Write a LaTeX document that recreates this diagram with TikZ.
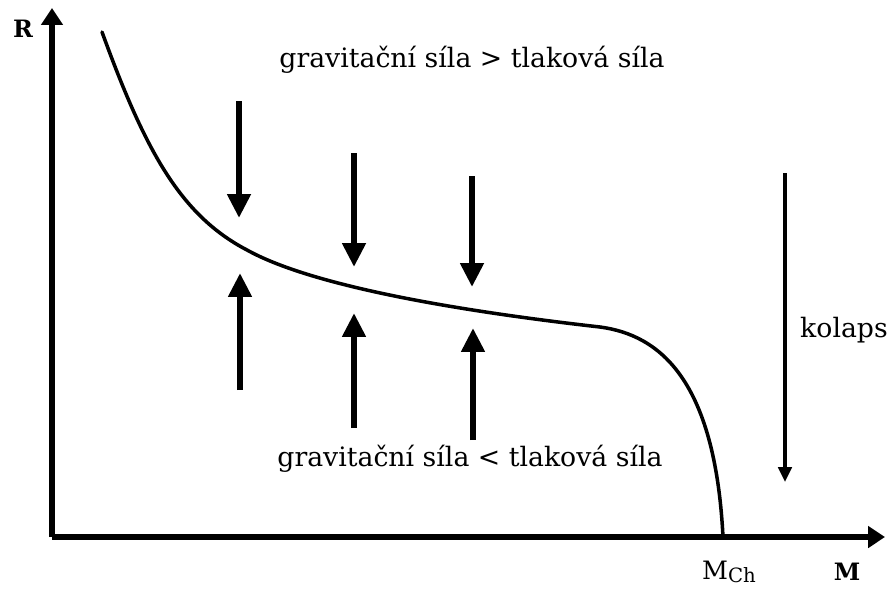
\documentclass[tikz,border=0pt]{standalone}
\usepackage{fontspec}
\setmainfont{DejaVu Serif}
\usetikzlibrary{arrows.meta}

\begin{document}
\begin{tikzpicture}[x=0.025cm,y=-0.025cm,font=\fontsize{19}{22}\selectfont,
    axis/.style={line width=4.2pt,-{Triangle[length=12pt,width=15pt]}},
    force/.style={line width=4.6pt,-{Triangle[length=17pt,width=16pt]}},
    thinarrow/.style={line width=2.3pt,-{Triangle[length=10.5pt,width=9.5pt]}}]
  \useasboundingbox (0,0) rectangle (893,588);
  % axes R over M
  \coordinate (O) at (52,537);
  \coordinate (Rend) at (52,8);
  \coordinate (Mend) at (885,537);
  \draw[axis] (O) -- (Rend);
  \draw[axis] (O) -- (Mend);
  \node[font=\fontsize{17}{20}\selectfont\bfseries] (R) at (23,29) {R};
  \node[font=\fontsize{17}{20}\selectfont\bfseries] (M) at (847,572) {M};
  \node[font=\fontsize{18}{20}\selectfont] (MCh) at (729,572) {M\raisebox{-0.12em}{\fontsize{14}{15}\selectfont Ch}};
  % mass-radius curve
  \draw[line width=2.5pt,line cap=round] (102,32)
    .. controls (145,150) and (180,215) .. (247,250)
    .. controls (310,285) and (450,310) .. (600,327)
    .. controls (660,335) and (715,380) .. (723,537);
  % gravity pushes down, pressure pushes up
  \foreach \n/\x/\a/\b in {1/239/101/218,2/354/153/267,3/472/176/287} {
    \coordinate (dtop\n) at (\x,\a);
    \coordinate (dtip\n) at (\x,\b);
    \draw[force] (dtop\n) -- (dtip\n);
  }
  \foreach \n/\x/\a/\b in {1/240/390/273,2/354/428/313,3/473/440/328} {
    \coordinate (ubot\n) at (\x,\a);
    \coordinate (utip\n) at (\x,\b);
    \draw[force] (ubot\n) -- (utip\n);
  }
  \node (grav) at (472,60) {gravitační síla > tlaková síla};
  \node (press) at (470,459) {gravitační síla < tlaková síla};
  % collapse
  \coordinate (ktop) at (785,173);
  \coordinate (ktip) at (785,482);
  \draw[thinarrow] (ktop) -- (ktip);
  \node (kolaps) at (844,330) {kolaps};
\end{tikzpicture}
\end{document}
